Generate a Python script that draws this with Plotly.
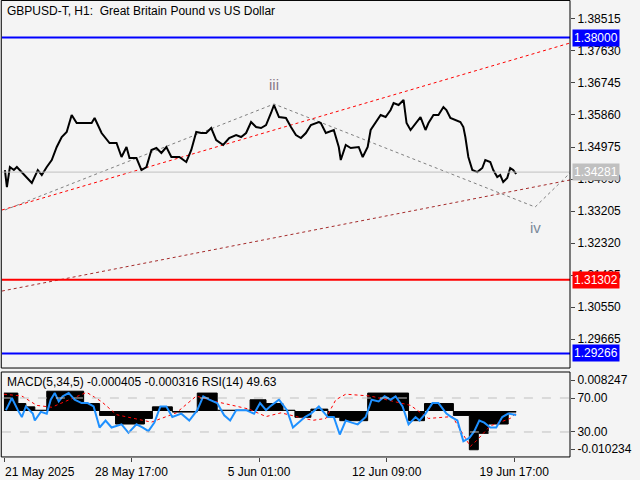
import plotly.graph_objects as go

# ---- data ----
bar_idx = [3,5,8,12,15,22,30,36,40,45,50,55,60,65,70,75,82,90,93,100,108,115,120,125,128,135,140,145,150,155,160,165,170,178,185,190,195,200,205,210,215,222,228,235,240,245,250,255,260,265,270,273,278,285,290,295,300,305,310,318,320,325,333,338,340,345,350,358,362,367,370,375,380,385,390,393,398,403,406,410,415,420,425,428,433,438,443,446,450,455,460,463,465,468,472,477,482,485,490,493,497,500,503,507,510,513,516]
close = [1.34338,1.33868,1.34421,1.34338,1.34421,1.34200,1.33979,1.34338,1.34200,1.34421,1.34615,1.34975,1.35251,1.35389,1.35860,1.35638,1.35638,1.35638,1.35777,1.35362,1.35085,1.35085,1.34698,1.34975,1.34670,1.34670,1.34338,1.34421,1.34892,1.34947,1.34809,1.34975,1.34698,1.34698,1.34560,1.34892,1.35389,1.35362,1.35362,1.35500,1.35168,1.35030,1.35223,1.35306,1.35251,1.35362,1.35666,1.35528,1.35500,1.35583,1.35915,1.36136,1.35804,1.35777,1.35528,1.35306,1.35223,1.35362,1.35583,1.35666,1.35638,1.35362,1.35445,1.34975,1.34615,1.35030,1.34947,1.34975,1.34698,1.34975,1.35445,1.35638,1.35860,1.35804,1.35998,1.36192,1.36136,1.36275,1.35638,1.35445,1.35638,1.35804,1.35445,1.35638,1.35860,1.35860,1.36081,1.35998,1.35777,1.35721,1.35666,1.35528,1.35251,1.34698,1.34338,1.34281,1.34394,1.34615,1.34560,1.34338,1.34145,1.34200,1.34006,1.34117,1.34394,1.34338,1.34228]

rsi_x = [4,10,16,20,24,31,33,39,45,49,53,57,61,67,73,80,86,92,98,104,110,120,127,135,141,147,153,159,165,171,180,188,196,202,208,216,223,229,235,245,253,259,265,269,278,286,292,298,304,310,318,327,333,339,345,351,357,365,371,378,384,390,395,402,408,415,419,425,432,438,446,451,457,463,469,474,479,484,490,496,502,508,514,516]
rsi = [55.7,70,55.7,47.6,60,51.6,43.5,53.7,51.6,68,76,66,72,76,68,64,64,60,35.3,43.5,35.3,39,29,39,35.3,31,41,60,60,47.6,51.6,43.5,55.7,72,68,64,49.6,43.5,55.7,55.7,51.6,64,55.7,60,68,55.7,35.3,41,47.6,51.6,60,47.6,47.6,27,43.5,41,39,47.6,68,66,72,68,72,60,39,47.6,43.5,51.6,64,64,51.6,47.6,43.5,19,23,31,43.5,41,35.3,35.3,47.6,51.6,50,50]

# MACD histogram: value held from each x until the next
macd_x = [2,16,24,33,45,82,98,114,143,151,171,196,216,249,265,282,294,310,327,339,367,408,424,453,469,478,488,508,516]
macd = [0.0048,0.0020,0.0011,0.0002,0.0053,0.0020,-0.0012,-0.0035,-0.0020,0.0011,-0.0003,0.0048,0.0002,0.0030,0.0020,0.0002,-0.0017,0.0005,-0.0017,-0.0026,0.0048,-0.0026,0.0020,-0.0012,-0.0104,-0.0060,-0.0035,-0.0003,-0.0003]
signal_x = [2,20,35,50,85,100,115,150,175,195,215,248,265,280,300,312,325,335,345,370,410,428,452,470,476,490,510,516]
signal = [0.0045,0.0040,0.0015,0.0010,0.0050,0.0025,-0.0010,-0.0030,-0.0005,0.0040,0.0025,0.0005,-0.0015,-0.0005,-0.0018,-0.0025,-0.0020,0.0030,0.0045,0.0040,0.0015,-0.0020,-0.0015,-0.0095,-0.0080,-0.0040,-0.0020,-0.0005]

price_ticks = [1.38515,1.37630,1.36745,1.35860,1.34975,1.34090,1.33205,1.32320,1.31435,1.30550,1.29665]
date_tick_idx = [3,130,258,386,514]
date_tick_labels = ["21 May 2025","28 May 17:00","5 Jun 01:00","12 Jun 09:00","19 Jun 17:00"]

levels = [(1.38000,"blue"),(1.31302,"red"),(1.29266,"blue")]
last_price = 1.34281
upper_trend = ([0,570],[1.33232,1.37851])
lower_trend = ([0,570],[1.30991,1.34062])
wave_x = [3,273,535,570]
wave_y = [1.33232,1.36164,1.33315,1.34255]

XMAX = 570
fig = go.Figure()
F = "Liberation Sans"
FS = 12

fig.add_trace(go.Scatter(x=upper_trend[0], y=upper_trend[1], mode="lines",
    line=dict(color="red", width=1, dash="dot"), xaxis="x", yaxis="y"))
fig.add_trace(go.Scatter(x=lower_trend[0], y=lower_trend[1], mode="lines",
    line=dict(color="#a52a2a", width=1, dash="dot"), xaxis="x", yaxis="y"))
fig.add_trace(go.Scatter(x=wave_x, y=wave_y, mode="lines",
    line=dict(color="#808080", width=1, dash="dot"), xaxis="x", yaxis="y"))
fig.add_trace(go.Scatter(x=bar_idx, y=close, mode="lines",
    line=dict(color="black", width=2), xaxis="x", yaxis="y"))

fig.add_trace(go.Scatter(x=macd_x, y=macd, mode="lines", fill="tozeroy", line_shape="hv",
    fillcolor="black", line=dict(color="black", width=1), xaxis="x2", yaxis="y2"))
fig.add_trace(go.Scatter(x=signal_x, y=signal, mode="lines",
    line=dict(color="red", width=1, dash="dot"), xaxis="x2", yaxis="y2"))
fig.add_trace(go.Scatter(x=rsi_x, y=rsi, mode="lines",
    line=dict(color="#1e90ff", width=2), xaxis="x2", yaxis="y3"))

shapes = []
for val, col in levels:
    shapes.append(dict(type="line", xref="x", yref="y", x0=0, x1=XMAX, y0=val, y1=val,
                       line=dict(color=col, width=2)))
shapes.append(dict(type="line", xref="x", yref="y", x0=0, x1=XMAX, y0=last_price, y1=last_price,
                   line=dict(color="#c0c0c0", width=1)))
for v in (70, 30):
    shapes.append(dict(type="line", xref="x2", yref="y3", x0=0, x1=XMAX, y0=v, y1=v,
                       line=dict(color="#c0c0c0", width=1, dash="dash")))
dx = 570/640
shapes.append(dict(type="rect", xref="paper", yref="paper", x0=0.002, x1=dx, y0=0.2333, y1=0.999,
                   line=dict(color="black", width=1)))
shapes.append(dict(type="rect", xref="paper", yref="paper", x0=0.002, x1=dx, y0=0.048, y1=0.225,
                   line=dict(color="black", width=1)))

ann = [
    dict(text="GBPUSD-T, H1:  Great Britain Pound vs US Dollar", xref="paper", yref="paper",
         x=0.008, y=0.995, xanchor="left", yanchor="top", showarrow=False, font=dict(family=F, size=FS, color="black")),
    dict(text="MACD(5,34,5) -0.000405 -0.000316 RSI(14) 49.63", xref="paper", yref="paper",
         x=0.008, y=0.222, xanchor="left", yanchor="top", showarrow=False, font=dict(family=F, size=FS, color="black")),
    dict(text="iii", x=273, y=1.3670, xref="x", yref="y", showarrow=False, font=dict(family=F, size=15, color="#8a7a8a")),
    dict(text="iv", x=535, y=1.32760, xref="x", yref="y", showarrow=False, font=dict(family=F, size=15, color="#7a8a9a")),
    dict(text=date_tick_labels[0], x=date_tick_idx[0] - 2, xref="x2", yref="paper", y=0.036, xanchor="left",
         yanchor="top", showarrow=False, font=dict(family=F, size=FS, color="black")),
]
for val, col in levels + [(last_price, "#c0c0c0")]:
    ann.append(dict(text=f"{val:.5f}", xref="paper", yref="y", x=dx + 0.003, y=val, xanchor="left",
                    showarrow=False, bgcolor=col, borderpad=1,
                    font=dict(family=F, size=FS, color="white")))

tf = dict(family=F, size=FS, color="black")
fig.update_layout(
    width=640, height=480, margin=dict(l=0, r=0, t=0, b=0, autoexpand=False),
    paper_bgcolor="#f4f4f4", plot_bgcolor="#f4f4f4", showlegend=False,
    shapes=shapes, annotations=ann,
    xaxis=dict(domain=[0.003, dx], range=[0, XMAX], showticklabels=False, showgrid=False, zeroline=False,
               anchor="y", automargin=False),
    yaxis=dict(domain=[0.2333, 0.9896], range=[1.28863, 1.38902], side="right", anchor="x",
               tickvals=price_ticks, ticktext=[f"{v:.5f}" for v in price_ticks],
               ticks="outside", ticklen=4, showgrid=False, zeroline=False, tickfont=tf, automargin=False),
    xaxis2=dict(domain=[0.003, dx], range=[0, XMAX], anchor="y2", showgrid=False, zeroline=False,
                tickvals=date_tick_idx, ticktext=[""] + date_tick_labels[1:], ticks="outside", ticklen=4,
                tickfont=tf, automargin=False),
    yaxis2=dict(domain=[0.048, 0.225], range=[-0.01233, 0.01045], side="right", anchor="x2",
                tickvals=[0.008247, -0.010234], ticktext=["0.008247", "-0.010234"],
                ticks="outside", ticklen=4, showgrid=False, zeroline=False, tickfont=tf, automargin=False),
    yaxis3=dict(overlaying="y2", range=[0.6, 100.6], side="right", anchor="x2",
                tickvals=[70, 30], ticktext=["70.00", "30.00"], ticks="outside", ticklen=4,
                showgrid=False, zeroline=False, tickfont=tf, automargin=False),
)
fig.write_html("out.html", config={"displayModeBar": False},
               post_script="document.body.style.margin='0';document.body.style.background='#f4f4f4';")
